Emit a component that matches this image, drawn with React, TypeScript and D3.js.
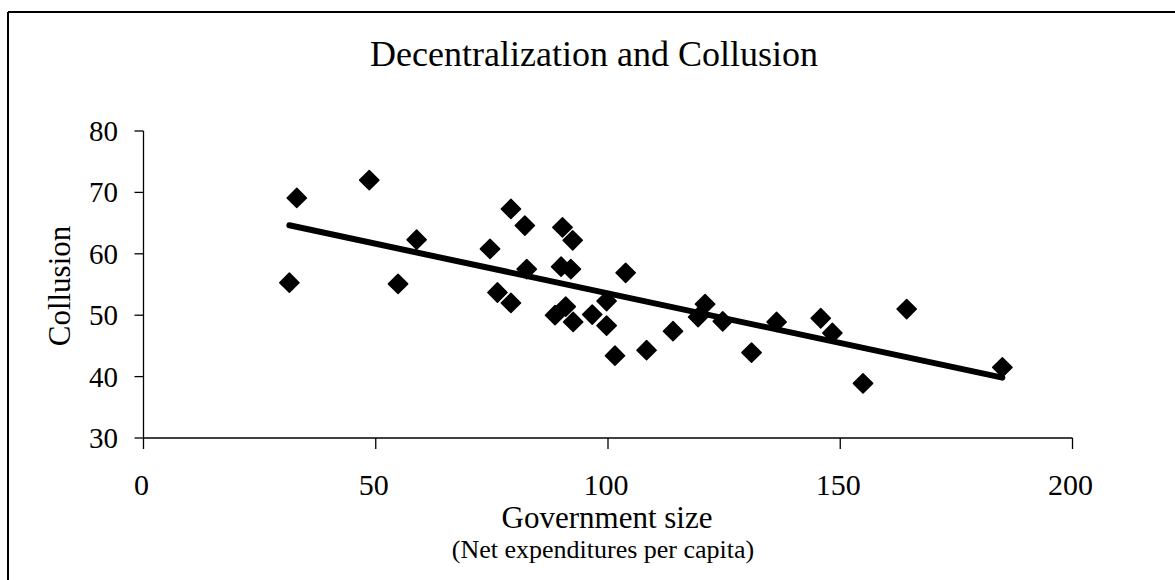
import { scaleLinear, symbol, symbolSquare, line, mean } from "d3";

// Government size (net expenditures per capita) and collusion index
const govSize = [
  31.4, 33.0, 48.6, 58.8, 54.8, 74.6, 79.1, 82.1, 82.5, 76.2, 79.1, 90.2,
  92.4, 89.9, 92.0, 88.6, 90.9, 92.5, 96.6, 99.7, 99.7, 101.5, 103.8, 108.3,
  114.0, 120.9, 119.4, 124.7, 130.9, 136.3, 145.8, 148.3, 154.9, 164.3, 184.9,
];
const collusion = [
  55.3, 69.1, 72.0, 62.3, 55.1, 60.8, 67.3, 64.6, 57.5, 53.7, 52.0, 64.3,
  62.2, 57.9, 57.5, 50.0, 51.4, 48.9, 50.1, 52.3, 48.3, 43.4, 56.9, 44.3,
  47.4, 51.8, 49.7, 49.0, 43.9, 48.9, 49.5, 47.1, 38.9, 51.0, 41.5,
];
const xTicks = [0, 50, 100, 150, 200];
const yTicks = [30, 40, 50, 60, 70, 80];

const width = 1175;
const height = 580;
const font = "'Liberation Serif', 'Times New Roman', serif";

const x = scaleLinear().domain([0, 200]).range([143.5, 1072.5]);
const y = scaleLinear().domain([30, 80]).range([438, 131]);

// least squares trend line, as the spreadsheet drew it
const mx = mean(govSize)!;
const my = mean(collusion)!;
let sxy = 0;
let sxx = 0;
govSize.forEach((v, i) => {
  sxy += (v - mx) * (collusion[i] - my);
  sxx += (v - mx) * (v - mx);
});
const slope = sxy / sxx;
const intercept = my - slope * mx;
const xMin = Math.min(...govSize);
const xMax = Math.max(...govSize);
const trend: [number, number][] = [
  [xMin, intercept + slope * xMin],
  [xMax, intercept + slope * xMax],
];

const trendPath = line<[number, number]>()
  .x((d) => x(d[0]))
  .y((d) => y(d[1]));

const diamond = symbol().type(symbolSquare).size(185)()!;

const App = () => {
  return (
    <svg
      width={width}
      height={height}
      style={{ position: "absolute", left: 0, top: 0, background: "#fff" }}
      fontFamily={font}
    >
      <rect width={width} height={height} fill="#fff" />
      {/* frame */}
      <line x1={8} x2={width} y1={12} y2={12} stroke="#000" strokeWidth={2} />
      <line x1={8} x2={8} y1={12} y2={height} stroke="#000" strokeWidth={2} />

      <text x={594} y={66} fontSize={36} textAnchor="middle">
        Decentralization and Collusion
      </text>

      {/* y axis */}
      <line x1={x(0)} x2={x(0)} y1={y(80)} y2={y(30)} stroke="#000" strokeWidth={1.3} />
      {yTicks.map((t) => (
        <g key={t}>
          <line x1={x(0) - 9} x2={x(0)} y1={y(t)} y2={y(t)} stroke="#000" strokeWidth={1.3} />
          <text x={118} y={y(t) + 10} fontSize={29} textAnchor="end">
            {t}
          </text>
        </g>
      ))}

      {/* x axis */}
      <line x1={x(0)} x2={x(200)} y1={y(30)} y2={y(30)} stroke="#000" strokeWidth={1.3} />
      {xTicks.map((t) => (
        <g key={t}>
          <line x1={x(t)} x2={x(t)} y1={y(30)} y2={y(30) + 11} stroke="#000" strokeWidth={1.3} />
          <text x={x(t) - 2} y={495} fontSize={30} textAnchor="middle">
            {t}
          </text>
        </g>
      ))}

      <text x={607} y={528} fontSize={31} textAnchor="middle">
        Government size
      </text>
      <text x={603} y={558} fontSize={26} textAnchor="middle">
        (Net expenditures per capita)
      </text>
      <text
        transform="translate(70,286) rotate(-90)"
        fontSize={31}
        textAnchor="middle"
      >
        Collusion
      </text>

      <path
        d={trendPath(trend)!}
        stroke="#000"
        strokeWidth={6}
        strokeLinecap="round"
        fill="none"
      />

      {govSize.map((v, i) => (
        <path
          key={i}
          d={diamond}
          transform={`translate(${x(v)},${y(collusion[i])}) rotate(45)`}
          fill="#000"
          stroke="#000"
          strokeWidth={1.5}
          strokeLinejoin="round"
        />
      ))}
    </svg>
  );
};

export default App;
